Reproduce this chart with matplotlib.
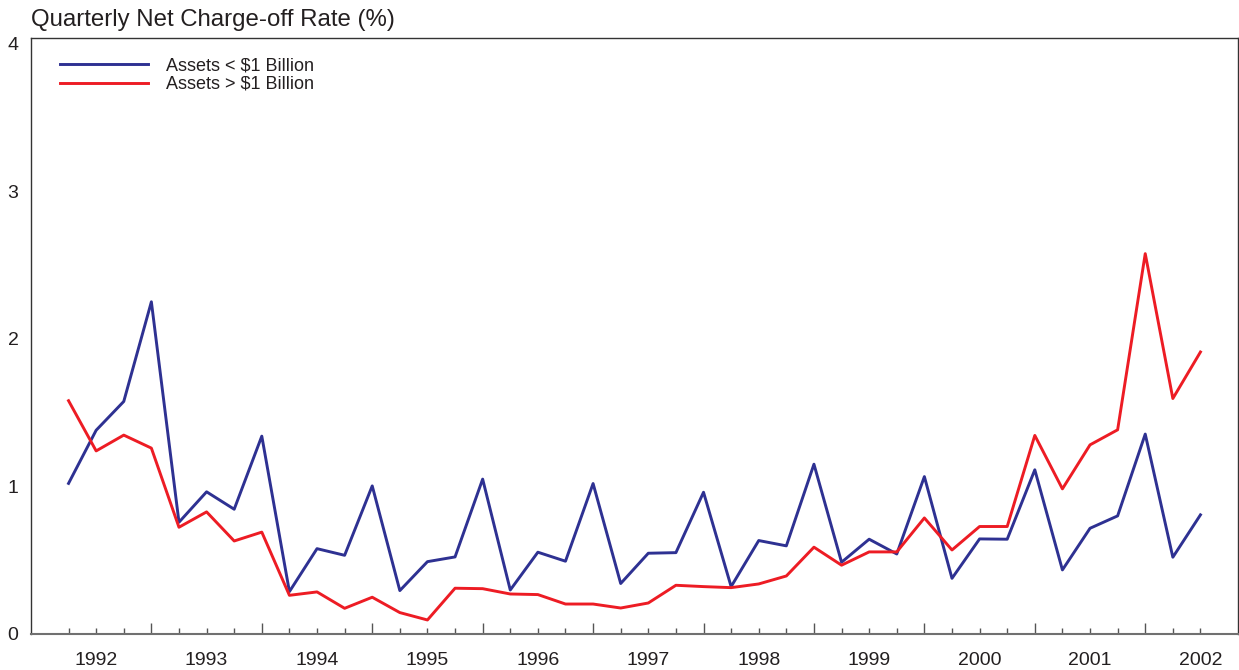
"""
季度净核销率图 (1992Q1 - 2002Q2)

生成: out.png
"""

import numpy as np
import matplotlib
matplotlib.use('Agg')
import matplotlib.pyplot as plt
from matplotlib.ticker import FixedLocator

plt.rcParams['font.family'] = ['Liberation Sans', 'DejaVu Sans']

# 数据: 季度 (1992Q1 .. 2002Q2)
quarters = np.arange(1992.25, 2002.51, 0.25)
small_banks = [1.02, 1.38, 1.575, 2.25, 0.757, 0.963, 0.845, 1.34,
               0.287, 0.578, 0.533, 1.003, 0.294, 0.49, 0.522, 1.049,
               0.298, 0.554, 0.493, 1.019, 0.342, 0.547, 0.551, 0.96,
               0.321, 0.633, 0.597, 1.15, 0.486, 0.642, 0.542, 1.066,
               0.377, 0.644, 0.642, 1.112, 0.434, 0.716, 0.80, 1.354,
               0.52, 0.807]
large_banks = [1.58, 1.24, 1.347, 1.259, 0.723, 0.827, 0.63, 0.69,
               0.262, 0.285, 0.174, 0.249, 0.145, 0.095, 0.31, 0.307,
               0.271, 0.267, 0.203, 0.203, 0.176, 0.21, 0.33, 0.321,
               0.314, 0.339, 0.393, 0.588, 0.466, 0.556, 0.556, 0.786,
               0.569, 0.728, 0.728, 1.345, 0.983, 1.281, 1.383, 2.576,
               1.595, 1.91]
year_labels = [str(y) for y in range(1992, 2003)]

TEXT = '#231f20'
BLUE = '#2e3192'
RED = '#ed1c24'

fig = plt.figure(figsize=(12.39, 6.70), dpi=100)
ax = fig.add_axes([31 / 1239, 36 / 670, 1207 / 1239, 596.5 / 670])

ax.plot(quarters, small_banks, color=BLUE, linewidth=2.1, label='Assets < $1 Billion')
ax.plot(quarters, large_banks, color=RED, linewidth=2.1, label='Assets > $1 Billion')

ax.set_xlim(1991.91, 2002.84)
ax.set_ylim(0, 4.04)

# x 轴: 年份分界为长刻度, 季度为短刻度
ax.set_xticks(np.arange(1993, 2003))
ax.set_xticklabels([])
ax.xaxis.set_minor_locator(FixedLocator(quarters))
ax.tick_params(axis='x', which='major', direction='in', length=8, color='#555555', width=1)
ax.tick_params(axis='x', which='minor', direction='in', length=4, color='#555555', width=1)

# 年份标签放在每年中间
sec = ax.secondary_xaxis('bottom')
sec.set_xticks(np.arange(1992.5, 2003), labels=year_labels)
sec.tick_params(length=0, pad=13, labelsize=14, labelcolor=TEXT)
sec.spines['bottom'].set_visible(False)

ax.set_yticks([0, 1, 2, 3, 4])
ax.tick_params(axis='y', length=0, pad=9, labelsize=14, labelcolor=TEXT)

for side in ['left', 'top', 'right']:
    ax.spines[side].set_color('#333333')
    ax.spines[side].set_linewidth(1)
ax.spines['bottom'].set_color('#707070')
ax.spines['bottom'].set_linewidth(1.5)

fig.text(31 / 1239, 1 - 20 / 670, 'Quarterly Net Charge-off Rate (%)',
         fontsize=17.3, color=TEXT, ha='left', va='center')

ax.legend(loc='upper left', bbox_to_anchor=(0.024, 0.966), frameon=False,
          fontsize=13, handlelength=4.9, handletextpad=0.95, labelspacing=0.06,
          borderaxespad=0, borderpad=0, labelcolor=TEXT)

plt.savefig('out.png', dpi=100)
